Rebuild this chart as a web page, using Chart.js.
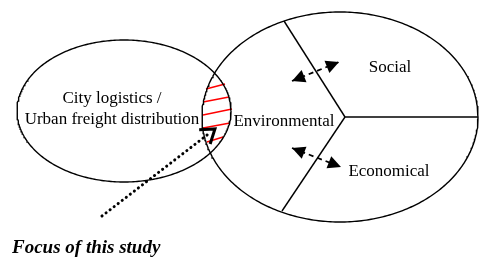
<!DOCTYPE html>
<html><head><meta charset="utf-8">
<script src="https://cdn.jsdelivr.net/npm/chart.js@4"></script>
<style>html,body{margin:0;padding:0;background:#fff;}canvas{display:block;}</style>
</head><body>
<canvas id="c" width="479" height="257"></canvas>
<script>
// Diagram elements (in picture coordinates, x right, y down)
const ellipses = [ // [cx, cy, rx, ry]
  [124, 111, 107, 71],
  [340, 117, 138, 105]
];
const hub = [345, 117];
const spokeEnds = [[284, 21], [282, 211], [478, 117]];
const hatchLines = [
  [[206, 89], [225, 84]],
  [[203, 102], [229, 97]],
  [[203, 115], [232, 109]],
  [[203, 128], [230, 123]],
  [[207, 142], [223, 137]]
];
const focusArrow = [[102, 216], [211, 132]];
const dashedArrows = [
  [[292, 81], [339, 62]],
  [[292, 148], [341, 167]]
];
const labels = [
  {text: 'City logistics /', x: 112, y: 99, font: '17px "Liberation Serif"'},
  {text: 'Urban freight distribution', x: 112, y: 120, font: '17px "Liberation Serif"'},
  {text: 'Environmental', x: 284, y: 122, font: '17px "Liberation Serif"'},
  {text: 'Social', x: 390, y: 68, font: '17px "Liberation Serif"'},
  {text: 'Economical', x: 389, y: 172, font: '17px "Liberation Serif"'},
  {text: 'Focus of this study', x: 12, y: 248, font: 'italic bold 19px "Liberation Serif"', align: 'left'}
];

function ellipsePts(e) {
  const pts = [];
  for (let i = 0; i <= 360; i++) {
    const t = i / 360 * 2 * Math.PI;
    pts.push({x: e[0] + e[2] * Math.cos(t), y: e[1] + e[3] * Math.sin(t)});
  }
  return pts;
}
const P = p => ({x: p[0], y: p[1]});
const ds = [];
ellipses.forEach(e => ds.push({data: ellipsePts(e), borderColor: '#000', borderWidth: 1.4}));
spokeEnds.forEach(s => ds.push({data: [P(hub), P(s)], borderColor: '#000', borderWidth: 1.4}));
hatchLines.forEach(l => ds.push({data: l.map(P), borderColor: '#ff0000', borderWidth: 1.4}));
ds.push({data: focusArrow.map(P), borderColor: '#000', borderWidth: 3, borderDash: [0.1, 5], borderCapStyle: 'round'});
dashedArrows.forEach(a => ds.push({data: a.map(P), borderColor: '#000', borderWidth: 1.8, borderDash: [5, 4]}));
ds.forEach(d => { d.showLine = true; d.pointRadius = 0; d.fill = false; d.tension = 0; d.clip = false; });

function head(ctx, x1, y1, x2, y2, len, wid) {
  const a = Math.atan2(y2 - y1, x2 - x1);
  ctx.beginPath();
  ctx.moveTo(x2, y2);
  ctx.lineTo(x2 - len * Math.cos(a) + wid * Math.sin(a), y2 - len * Math.sin(a) - wid * Math.cos(a));
  ctx.lineTo(x2 - len * Math.cos(a) - wid * Math.sin(a), y2 - len * Math.sin(a) + wid * Math.cos(a));
  ctx.closePath();
  ctx.fill();
}
const deco = {
  id: 'deco',
  afterDatasetsDraw(chart) {
    const {ctx, scales: {x, y}} = chart;
    ctx.save();
    ctx.fillStyle = '#000';
    dashedArrows.forEach(a => {
      const x1 = x.getPixelForValue(a[0][0]), y1 = y.getPixelForValue(a[0][1]);
      const x2 = x.getPixelForValue(a[1][0]), y2 = y.getPixelForValue(a[1][1]);
      head(ctx, x1, y1, x2, y2, 13, 6.5);
      head(ctx, x2, y2, x1, y1, 13, 6.5);
    });
    // open arrowhead of focus arrow
    const fx1 = x.getPixelForValue(focusArrow[0][0]), fy1 = y.getPixelForValue(focusArrow[0][1]);
    const fx2 = x.getPixelForValue(focusArrow[1][0]), fy2 = y.getPixelForValue(focusArrow[1][1]);
    const a = Math.atan2(fy2 - fy1, fx2 - fx1);
    const tx = fx2 + 5 * Math.cos(a), ty = fy2 + 5 * Math.sin(a);
    ctx.strokeStyle = '#000'; ctx.lineWidth = 3; ctx.lineJoin = 'miter';
    ctx.beginPath();
    ctx.moveTo(tx - 13 * Math.cos(a) + 9 * Math.sin(a), ty - 13 * Math.sin(a) - 9 * Math.cos(a));
    ctx.lineTo(tx, ty);
    ctx.lineTo(tx - 13 * Math.cos(a) - 9 * Math.sin(a), ty - 13 * Math.sin(a) + 9 * Math.cos(a));
    ctx.stroke();
    ctx.textBaseline = 'middle';
    labels.forEach(l => {
      ctx.font = l.font;
      ctx.textAlign = l.align || 'center';
      ctx.fillText(l.text, x.getPixelForValue(l.x), y.getPixelForValue(l.y));
    });
    ctx.restore();
  }
};
const bg = {id: 'bg', beforeDraw(c) { c.ctx.save(); c.ctx.fillStyle = '#fff'; c.ctx.fillRect(0, 0, c.width, c.height); c.ctx.restore(); }};

new Chart(document.getElementById('c'), {
  type: 'scatter',
  data: {datasets: ds},
  options: {
    responsive: false, animation: false, devicePixelRatio: 1,
    layout: {padding: 0},
    plugins: {legend: {display: false}, tooltip: {enabled: false}},
    scales: {
      x: {type: 'linear', min: 0, max: 479, display: false},
      y: {type: 'linear', min: 0, max: 257, reverse: true, display: false}
    }
  },
  plugins: [bg, deco]
});
</script>
</body></html>
